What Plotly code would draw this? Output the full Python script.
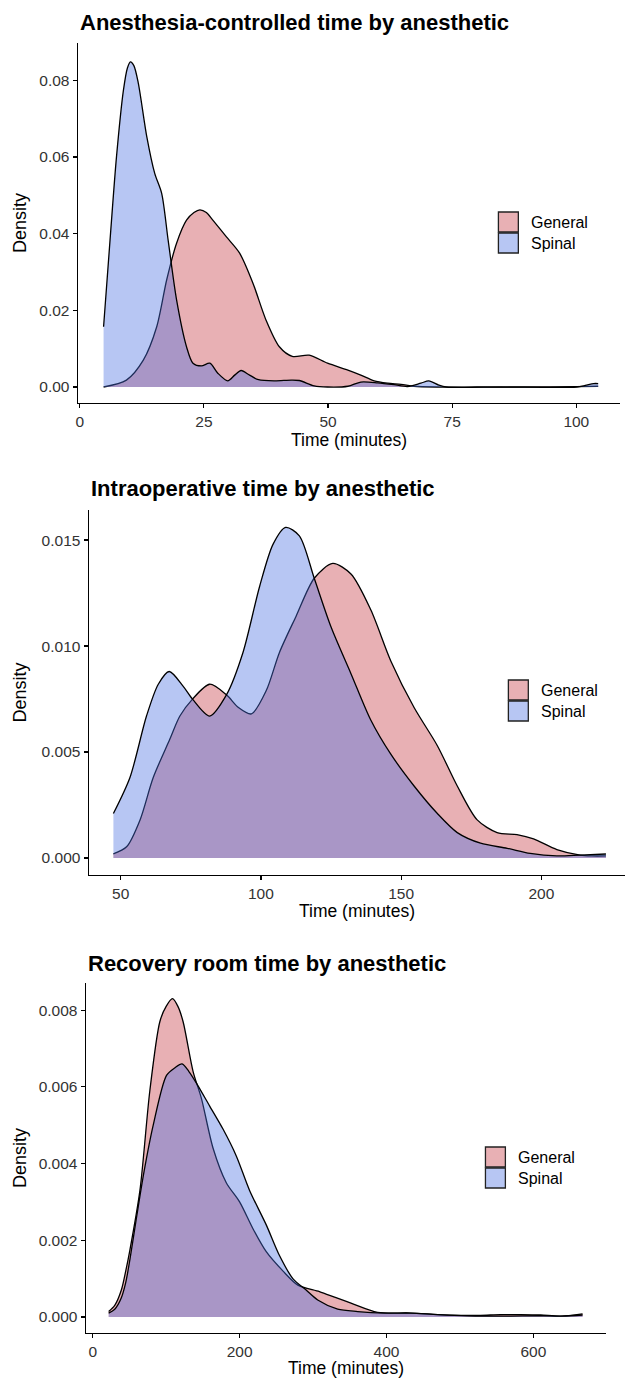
import plotly.graph_objects as go

# ---------------- data ----------------
# Panel 1: Anesthesia-controlled time
p1_general_t = [4.8, 9.4, 12.8, 15.5, 17.5, 19.5, 21.5, 23.0, 24.2, 25.5, 26.8, 29.5, 32.2, 34.9,
                37.5, 40.2, 42.8, 46.2, 49.9, 54.0, 56.6, 59.3, 62.0, 64.7, 67.3, 72.0, 80.0,
                90.0, 100.0, 104.4]
p1_general_d = [0.0, 0.0018, 0.0070, 0.0157, 0.0279, 0.0375, 0.0435, 0.0455, 0.0462, 0.0455,
                0.0435, 0.0392, 0.0349, 0.0270, 0.0175, 0.0105, 0.0080, 0.0083, 0.0062, 0.0044,
                0.0031, 0.0016, 0.0010, 0.0007, 0.0002, 0.0, 0.0, 0.0, 0.0001, 0.0002]
p1_spinal_t = [4.8, 6.1, 7.4, 8.8, 9.6, 10.2, 10.9, 11.8, 13.5, 15.1, 16.5, 17.8, 19.5, 21.5,
               22.8, 24.5, 26.2, 27.8, 29.8, 31.2, 32.5, 34.2, 36.0, 39.2, 42.6, 44.2, 47.2,
               49.9, 54.0, 56.6, 60.0, 63.3, 66.0, 68.7, 70.3, 72.3, 73.8, 85.0, 100.1, 101.8,
               103.5, 104.4]
p1_spinal_d = [0.0157, 0.0383, 0.0600, 0.0774, 0.0832, 0.0848, 0.0838, 0.0792, 0.0653, 0.0557,
               0.0505, 0.0383, 0.0227, 0.0105, 0.0062, 0.0055, 0.0062, 0.0036, 0.0016, 0.0031,
               0.0043, 0.0031, 0.0019, 0.0016, 0.0018, 0.0017, 0.0003, 0.0, 0.0002, 0.0013,
               0.0011, 0.0006, 0.0001, 0.0010, 0.0016, 0.0005, 0.0, 0.0, 0.0, 0.0004, 0.0009,
               0.0009]

# Panel 2: Intraoperative time
p2_general_t = [47.4, 52.1, 56.9, 61.6, 67.5, 71.1, 75.6, 81.7, 87.7, 92.0, 96.6, 101.9, 106.6,
                112.5, 119.0, 125.6, 132.1, 139.2, 146.3, 154.6, 162.9, 170.0, 177.1, 184.2,
                191.3, 197.2, 205.5, 213.8, 218.0, 223.0]
p2_general_d = [0.0002, 0.00053, 0.0018, 0.0038, 0.0056, 0.0067, 0.0075, 0.0082, 0.0077, 0.0071,
                0.0068, 0.0079, 0.0097, 0.0114, 0.0132, 0.0139, 0.0134, 0.0117, 0.0093, 0.0071,
                0.0053, 0.0034, 0.0018, 0.0012, 0.0011, 0.0009, 0.0004, 0.00014, 0.0001, 0.0001]
p2_spinal_t = [47.4, 53.3, 59.2, 63.4, 67.3, 72.3, 75.6, 81.7, 87.7, 93.6, 99.5, 104.3, 108.8,
               113.7, 119.0, 125.0, 132.1, 139.2, 146.3, 154.6, 162.9, 170.0, 178.3, 187.8,
               196.0, 205.5, 213.8, 223.0]
p2_spinal_d = [0.0021, 0.0038, 0.0067, 0.0082, 0.0088, 0.0081, 0.0075, 0.0067, 0.0077, 0.0097,
               0.0128, 0.0148, 0.0156, 0.0152, 0.0132, 0.0109, 0.0087, 0.0065, 0.0049, 0.0034,
               0.0021, 0.0012, 0.0007, 0.00046, 0.00022, 0.0001, 0.00014, 0.00019]

# Panel 3: Recovery room time
p3_general_t = [21.7, 30.0, 39.0, 45.0, 50.7, 64.3, 77.8, 91.4, 100.0, 108.6, 116.0, 123.1, 136.7,
                148.0, 163.9, 181.9, 200.0, 218.2, 236.3, 258.9, 279.3, 308.7, 331.3, 351.7,
                387.9, 433.0, 469.4, 501.0, 528.0, 555.0, 583.0, 610.0, 637.0, 667.0]
p3_general_d = [0.00014, 0.0003, 0.0007, 0.0012, 0.00175, 0.0033, 0.0059, 0.0077, 0.0081, 0.0083,
                0.0081, 0.0077, 0.0064, 0.0057, 0.0044, 0.0035, 0.0030, 0.0023, 0.0017, 0.0012,
                0.00083, 0.00066, 0.0005, 0.00036, 0.00012, 0.0001, 0.00006, 0.00004, 0.00004,
                0.00006, 0.00006, 0.00005, 0.00002, 0.00008]
p3_spinal_t = [21.7, 30.0, 39.0, 45.0, 50.7, 59.7, 70.0, 82.4, 100.5, 112.0, 121.7, 131.0, 141.2,
               159.3, 177.4, 195.5, 213.6, 236.3, 254.3, 272.5, 290.6, 306.4, 333.6, 360.7,
               398.0, 433.0, 470.0, 510.0, 560.0, 610.0, 640.0, 667.0]
p3_spinal_d = [0.0001, 0.0002, 0.0005, 0.0009, 0.0015, 0.0026, 0.0038, 0.0050, 0.0063, 0.0065,
               0.0066, 0.0064, 0.0061, 0.0055, 0.0049, 0.0042, 0.0033, 0.0024, 0.0016, 0.0010,
               0.0007, 0.00044, 0.0002, 0.00014, 0.0001, 0.0001, 0.00006, 0.00003, 0.00002,
               0.00003, 0.00002, 0.00005]

titles = ["Anesthesia-controlled time by anesthetic",
          "Intraoperative time by anesthetic",
          "Recovery room time by anesthetic"]
groups = ["General", "Spinal"]
x_title = "Time (minutes)"
y_title = "Density"

p1_xticks = [0, 25, 50, 75, 100]
p1_yticks = [0.0, 0.02, 0.04, 0.06, 0.08]
p1_yticklabels = ["0.00", "0.02", "0.04", "0.06", "0.08"]
p2_xticks = [50, 100, 150, 200]
p2_yticks = [0.0, 0.005, 0.010, 0.015]
p2_yticklabels = ["0.000", "0.005", "0.010", "0.015"]
p3_xticks = [0, 200, 400, 600]
p3_yticks = [0.0, 0.002, 0.004, 0.006, 0.008]
p3_yticklabels = ["0.000", "0.002", "0.004", "0.006", "0.008"]

# ---------------- styling / layout ----------------
W, H = 625, 1379
FONT = "Liberation Sans, Arial, Helvetica, sans-serif"
GEN_FILL = "rgba(197,57,67,0.4)"
SPI_FILL = "rgba(75,112,225,0.4)"
fills = [GEN_FILL, SPI_FILL]


def px_x(x):
    return x / W


def px_y(y):
    return 1 - y / H


panels = [
    dict(gen=(p1_general_t, p1_general_d), spi=(p1_spinal_t, p1_spinal_d),
         box=(76, 620, 43, 403), xr=[-0.4, 108.8], yr=[-0.00417, 0.0897],
         xt=p1_xticks, yt=p1_yticks, ytl=p1_yticklabels,
         title_y=23, xtitle_y=440, leg=(498, 212)),
    dict(gen=(p2_general_t, p2_general_d), spi=(p2_spinal_t, p2_spinal_d),
         box=(87, 625, 510, 875), xr=[38.6, 229.8], yr=[-0.0008, 0.01642],
         xt=p2_xticks, yt=p2_yticks, ytl=p2_yticklabels,
         title_y=488, xtitle_y=911, leg=(508, 680)),
    dict(gen=(p3_general_t, p3_general_d), spi=(p3_spinal_t, p3_spinal_d),
         box=(84, 606, 983, 1333), xr=[-9.5, 699], yr=[-0.00042, 0.00871],
         xt=p3_xticks, yt=p3_yticks, ytl=p3_yticklabels,
         title_y=963, xtitle_y=1367.5, leg=(485, 1147)),
]

fig = go.Figure()
shapes = []
annotations = []
layout_axes = {}

for i, p in enumerate(panels, start=1):
    xa = "x" if i == 1 else f"x{i}"
    ya = "y" if i == 1 else f"y{i}"
    for g, (t, d) in enumerate([p["gen"], p["spi"]]):
        fig.add_trace(go.Scatter(
            x=t, y=d, xaxis=xa, yaxis=ya, mode="lines",
            line=dict(color="black", width=1.3, shape="spline", smoothing=0.8),
            fill="tozeroy", fillcolor=fills[g], name=groups[g], showlegend=False,
            hoverinfo="skip"))
    x0, x1, y0, y1 = p["box"]
    axis_common = dict(showgrid=False, zeroline=False, showline=True, linecolor="black",
                       linewidth=1.2, ticks="outside", ticklen=4, tickwidth=1.2,
                       tickcolor="black",
                       tickfont=dict(family=FONT, size=15.5, color="#333333"))
    layout_axes["xaxis" if i == 1 else f"xaxis{i}"] = dict(
        domain=[px_x(x0), px_x(x1)], anchor=ya, range=p["xr"],
        tickvals=p["xt"], ticktext=[str(v) for v in p["xt"]], **axis_common)
    layout_axes["yaxis" if i == 1 else f"yaxis{i}"] = dict(
        domain=[px_y(y1), px_y(y0)], anchor=xa, range=p["yr"],
        tickvals=p["yt"], ticktext=p["ytl"], **axis_common)

    # title
    annotations.append(dict(text=f"<b>{titles[i-1]}</b>", xref="paper", yref="paper",
                            x=px_x(x0), y=px_y(p["title_y"]), xanchor="left",
                            yanchor="middle", showarrow=False,
                            font=dict(family=FONT, size=22, color="black")))
    # axis titles
    annotations.append(dict(text=x_title, xref="paper", yref="paper",
                            x=px_x((x0 + x1) / 2), y=px_y(p["xtitle_y"]),
                            xanchor="center", yanchor="middle", showarrow=False,
                            font=dict(family=FONT, size=17.5, color="black")))
    annotations.append(dict(text=y_title, xref="paper", yref="paper",
                            x=px_x(18), y=px_y((y0 + y1) / 2), textangle=-90,
                            xanchor="center", yanchor="middle", showarrow=False,
                            font=dict(family=FONT, size=18, color="black")))
    # legend (boxes + labels)
    lx, ly = p["leg"]
    for g in range(2):
        top = ly + g * 21
        shapes.append(dict(type="rect", xref="paper", yref="paper",
                           x0=px_x(lx), x1=px_x(lx + 20), y0=px_y(top + 20), y1=px_y(top),
                           fillcolor=fills[g], line=dict(color="#222222", width=1.3)))
        annotations.append(dict(text=groups[g], xref="paper", yref="paper",
                                x=px_x(lx + 31), y=px_y(top + 10), xanchor="left",
                                yanchor="middle", showarrow=False,
                                font=dict(family=FONT, size=16, color="black")))

fig.update_layout(
    width=W, height=H, margin=dict(l=0, r=0, t=0, b=0),
    paper_bgcolor="white", plot_bgcolor="white",
    showlegend=False, shapes=shapes, annotations=annotations,
    font=dict(family=FONT), hovermode=False,
    **layout_axes)

# remove the browser's default 8px page margin so the figure fills the window exactly
fig.write_html("out.html",
               config={"displayModeBar": False, "staticPlot": True},
               post_script="document.body.style.margin='0px';"
                           "document.documentElement.style.margin='0px';")
